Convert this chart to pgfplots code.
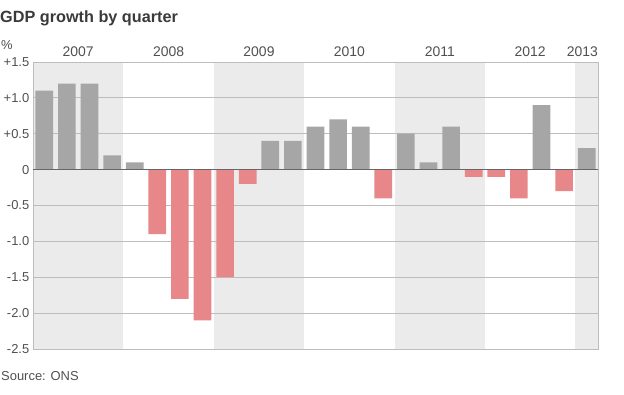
\documentclass[border=0pt]{standalone}
\usepackage{fontspec}
\setmainfont{Liberation Sans}
\usepackage{pgfplots}
\pgfplotsset{compat=1.18}
\definecolor{bargray}{HTML}{A6A6A6}
\definecolor{barred}{HTML}{E8878A}
\definecolor{band}{HTML}{EBEBEB}
\definecolor{gridc}{HTML}{BDBDBD}
\definecolor{zeroc}{HTML}{666666}
\definecolor{txt}{HTML}{3A3A3A}
\definecolor{ticktxt}{HTML}{505050}
\begin{document}
\begin{tikzpicture}
\begin{axis}[
  set layers,
  at={(33bp,46bp)}, anchor=south west,
  scale only axis, width=565bp, height=287bp,
  xmin=-0.5, xmax=24.5, ymin=-2.5, ymax=1.5,
  xtick=\empty,
  ytick={-2.5,-2,-1.5,-1,-0.5,0,0.5,1,1.5},
  yticklabels={-2.5,-2.0,-1.5,-1.0,-0.5,0,+0.5,+1.0,+1.5},
  yticklabel style={font=\fontsize{13}{15}\selectfont, text=ticktxt, inner sep=0pt, xshift=-3.5bp},
  ymajorgrids, grid style={gridc, line width=0.9bp},
  major tick length=0pt,
  axis line style={gridc, line width=0.9bp},
  clip=false,
]
% background year bands
\addplot[on layer=axis background, fill=band, draw=none, mark=none] coordinates {(-0.5,-2.5)(3.5,-2.5)(3.5,1.5)(-0.5,1.5)} -- cycle;
\addplot[on layer=axis background, fill=band, draw=none, mark=none] coordinates {(7.5,-2.5)(11.5,-2.5)(11.5,1.5)(7.5,1.5)} -- cycle;
\addplot[on layer=axis background, fill=band, draw=none, mark=none] coordinates {(15.5,-2.5)(19.5,-2.5)(19.5,1.5)(15.5,1.5)} -- cycle;
\addplot[on layer=axis background, fill=band, draw=none, mark=none] coordinates {(23.5,-2.5)(24.5,-2.5)(24.5,1.5)(23.5,1.5)} -- cycle;
% positive quarters
\addplot[ybar, bar width=0.78, bar shift=0pt, fill=bargray, draw=none] coordinates {
 (0,1.1)(1,1.2)(2,1.2)(3,0.2)(4,0.1)(10,0.4)(11,0.4)(12,0.6)(13,0.7)(14,0.6)
 (16,0.5)(17,0.1)(18,0.6)(22,0.9)(24,0.3)};
% negative quarters
\addplot[ybar, bar width=0.78, bar shift=0pt, fill=barred, draw=none] coordinates {
 (5,-0.9)(6,-1.8)(7,-2.1)(8,-1.5)(9,-0.2)(15,-0.4)(19,-0.1)(20,-0.1)(21,-0.4)(23,-0.3)};
% zero line
\addplot[zeroc, line width=1.6bp, mark=none] coordinates {(-0.5,0)(24.5,0)};
% year labels
\node[anchor=base, inner sep=0, font=\fontsize{14}{16}\selectfont, text=ticktxt] at (axis cs:1.5,1.5) [yshift=5bp] {2007};
\node[anchor=base, inner sep=0, font=\fontsize{14}{16}\selectfont, text=ticktxt] at (axis cs:5.5,1.5) [yshift=5bp] {2008};
\node[anchor=base, inner sep=0, font=\fontsize{14}{16}\selectfont, text=ticktxt] at (axis cs:9.5,1.5) [yshift=5bp] {2009};
\node[anchor=base, inner sep=0, font=\fontsize{14}{16}\selectfont, text=ticktxt] at (axis cs:13.5,1.5) [yshift=5bp] {2010};
\node[anchor=base, inner sep=0, font=\fontsize{14}{16}\selectfont, text=ticktxt] at (axis cs:17.5,1.5) [yshift=5bp] {2011};
\node[anchor=base, inner sep=0, font=\fontsize{14}{16}\selectfont, text=ticktxt] at (axis cs:21.5,1.5) [yshift=5bp] {2012};
\node[anchor=base east, inner sep=0, font=\fontsize{14}{16}\selectfont, text=ticktxt] at (axis cs:24.5,1.5) [yshift=5bp] {2013};
\end{axis}
\node[anchor=base west, inner sep=0, font=\fontsize{16.3}{19}\selectfont\bfseries, text=txt] at (0bp,372bp) {GDP growth by quarter};
\node[anchor=base west, inner sep=0, font=\fontsize{13}{15}\selectfont, text=ticktxt] at (1bp,345bp) {\%};
\node[anchor=base west, inner sep=0, font=\fontsize{13}{15}\selectfont, text=ticktxt] at (1bp,15bp) {Source: ONS};
\path (0bp,0bp) rectangle (624bp,395bp);
\end{tikzpicture}
\end{document}
